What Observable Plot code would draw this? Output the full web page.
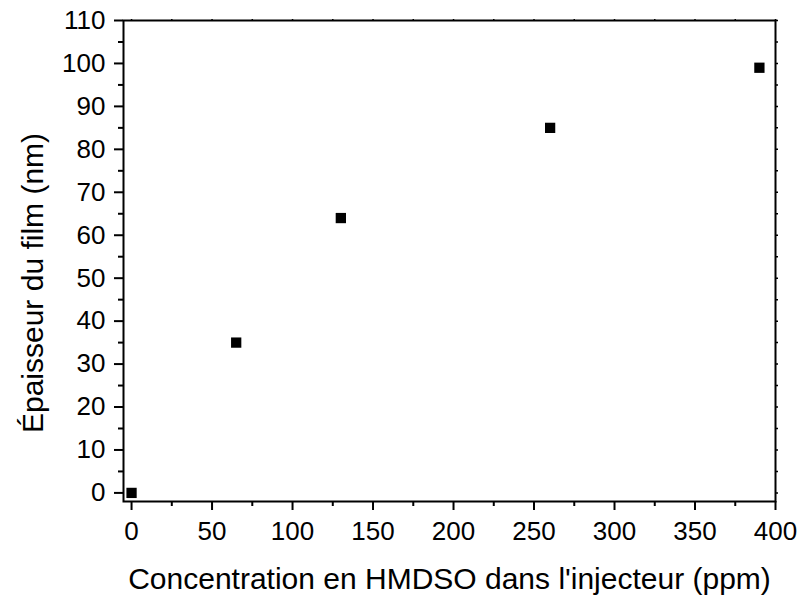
<!DOCTYPE html>
<html>
<head>
<meta charset="utf-8">
<script src="https://cdn.jsdelivr.net/npm/d3@7"></script>
<script src="https://cdn.jsdelivr.net/npm/@observablehq/plot@0.6"></script>
<style>
  html, body { margin: 0; padding: 0; background: #fff; }
  svg { display: block; }
</style>
</head>
<body>
<div id="chart"></div>
<script>
const concentration = [0, 65, 130, 260, 390];
const thickness = [0, 35, 64, 85, 99];
const xMajorTicks = [0, 50, 100, 150, 200, 250, 300, 350, 400];
const xMinorTicks = [25, 75, 125, 175, 225, 275, 325, 375];
const yMajorTicks = [0, 10, 20, 30, 40, 50, 60, 70, 80, 90, 100, 110];
const yMinorTicks = [5, 15, 25, 35, 45, 55, 65, 75, 85, 95, 105];
const xLabel = "Concentration en HMDSO dans l'injecteur (ppm)";
const yLabel = "Épaisseur du film (nm)";

const data = concentration.map((c, i) => ({x: c, y: thickness[i]}));
const font = "Liberation Sans, Arial, Helvetica, sans-serif";

const chart = Plot.plot({
  width: 801,
  height: 595,
  marginLeft: 123,
  marginRight: 26,
  marginTop: 20,
  marginBottom: 94,
  style: {fontFamily: font, color: "#000", background: "#fff"},
  x: {domain: [-5, 400]},
  y: {domain: [-2, 110]},
  marks: [
    Plot.axisX({ticks: xMajorTicks, tickSize: 9, tickPadding: 11, fontSize: 26, strokeWidth: 2, label: null, tickFormat: d => String(d)}),
    Plot.axisX({ticks: xMinorTicks, tickSize: 5, text: null, strokeWidth: 2, label: null}),
    Plot.axisX({anchor: "top", ticks: xMajorTicks.concat(xMinorTicks), tickSize: 2, text: null, strokeWidth: 1.5, label: null}),
    Plot.axisY({ticks: yMajorTicks, tickSize: 9, tickPadding: 9, fontSize: 26, strokeWidth: 2, label: null, tickFormat: d => String(d)}),
    Plot.axisY({ticks: yMinorTicks, tickSize: 5, text: null, strokeWidth: 2, label: null}),
    Plot.axisY({anchor: "right", ticks: yMajorTicks.concat(yMinorTicks), tickSize: 2, text: null, strokeWidth: 1.5, label: null}),
    Plot.frame({stroke: "#000", strokeWidth: 2}),
    Plot.dot(data, {x: "x", y: "y", symbol: "square", r: 5.8, fill: "#000", stroke: null}),
    Plot.text([xLabel], {frameAnchor: "bottom", dy: 78, fontSize: 30, lineAnchor: "middle", textAnchor: "middle", fill: "#000"}),
    Plot.text([yLabel], {frameAnchor: "left", dx: -90, dy: 22, rotate: -90, fontSize: 30, lineAnchor: "middle", textAnchor: "middle", fill: "#000"})
  ]
});
document.getElementById("chart").appendChild(chart);
</script>
</body>
</html>
